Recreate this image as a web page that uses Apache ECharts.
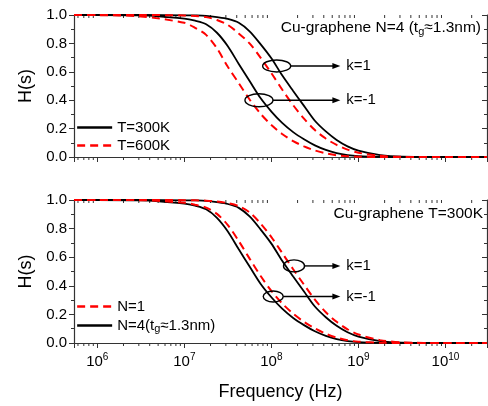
<!DOCTYPE html>
<html>
<head>
<meta charset="utf-8">
<script src="https://cdn.jsdelivr.net/npm/echarts@6/dist/echarts.min.js"></script>
<style>
html, body { margin: 0; padding: 0; background: #fff; }
#main { width: 488px; height: 406px; }
</style>
</head>
<body>
<div id="main"></div>
<script>
// frequency samples (Hz), 1/8 decade steps through the roll-off
var freqHz = [5.4e5, 1e6, 3.16e6, 1e7, 1.33e7, 1.78e7, 2.37e7, 3.16e7, 4.22e7, 5.62e7, 7.5e7, 1e8, 1.33e8, 1.78e8, 2.37e8, 3.16e8, 4.22e8, 5.62e8, 7.5e8, 1e9, 1.78e9, 3.16e9, 1e10, 3e10];

// N=4, T=300K (same curves in both panels)
var t300_kneg = [1, 1, 0.998, 0.975, 0.96, 0.935, 0.875, 0.78, 0.655, 0.535, 0.415, 0.32, 0.24, 0.175, 0.125, 0.082, 0.05, 0.027, 0.013, 0.006, 0.001, 0, 0, 0];
var t300_kpos = [1, 1, 1, 0.998, 0.997, 0.994, 0.985, 0.972, 0.945, 0.885, 0.795, 0.695, 0.575, 0.465, 0.36, 0.255, 0.18, 0.12, 0.075, 0.045, 0.013, 0.002, 0, 0];
// N=4, T=600K
var t600_kneg = [1, 0.999, 0.99, 0.945, 0.91, 0.86, 0.765, 0.635, 0.52, 0.405, 0.305, 0.225, 0.162, 0.112, 0.075, 0.046, 0.026, 0.012, 0.005, 0.002, 0, 0, 0, 0];
var t600_kpos = [1, 1, 1, 0.997, 0.993, 0.985, 0.965, 0.93, 0.87, 0.80, 0.70, 0.59, 0.475, 0.365, 0.27, 0.19, 0.13, 0.085, 0.052, 0.03, 0.008, 0.001, 0, 0];
// N=1, T=300K
var n1_kneg = [1, 1, 0.999, 0.98, 0.967, 0.947, 0.903, 0.824, 0.713, 0.59, 0.47, 0.364, 0.277, 0.205, 0.148, 0.102, 0.065, 0.038, 0.019, 0.009, 0.002, 0, 0, 0];
var n1_kpos = [1, 1, 1, 0.999, 0.998, 0.995, 0.989, 0.978, 0.957, 0.913, 0.836, 0.741, 0.63, 0.516, 0.408, 0.303, 0.215, 0.148, 0.096, 0.059, 0.02, 0.004, 0, 0];

var xMin = 5.4e5, xMax = 3e10;
var xMinorTicks = [6e5, 7e5, 8e5, 9e5,
    2e6, 3e6, 4e6, 5e6, 6e6, 7e6, 8e6, 9e6,
    2e7, 3e7, 4e7, 5e7, 6e7, 7e7, 8e7, 9e7,
    2e8, 3e8, 4e8, 5e8, 6e8, 7e8, 8e8, 9e8,
    2e9, 3e9, 4e9, 5e9, 6e9, 7e9, 8e9, 9e9,
    2e10];

// ellipse + arrow labels
var annotations = [
    { grid: 0, freq: 1.15e8, h: 0.641, rx: 14, ry: 6, text: 'k=1' },
    { grid: 0, freq: 7.2e7, h: 0.40, rx: 14, ry: 6.5, text: 'k=-1' },
    { grid: 1, freq: 1.82e8, h: 0.539, rx: 10.5, ry: 6, text: 'k=1' },
    { grid: 1, freq: 1.05e8, h: 0.325, rx: 10, ry: 5.5, text: 'k=-1' }
];
var arrowTipFreq = 6.2e8;

var FONT = 'Liberation Sans, Arial, sans-serif';
var AXIS_COLOR = '#333';

function pairs(vals) {
    return freqHz.map(function (f, i) { return [f, vals[i]]; });
}

function lineSeries(name, vals, grid, dashed) {
    return {
        type: 'line',
        name: name,
        xAxisIndex: grid * 2,
        yAxisIndex: grid * 2,
        data: pairs(vals),
        symbol: 'none',
        smooth: 0.3,
        lineStyle: dashed ? { color: '#ff0000', width: 2, type: [8, 5] } : { color: '#000', width: 1.8 },
        itemStyle: { color: dashed ? '#ff0000' : '#000' },
        z: dashed ? 3 : 2,
        silent: true
    };
}

// minor ticks of the log axis (bottom outward, top inward)
function minorTickSeries(grid) {
    return {
        type: 'custom',
        xAxisIndex: grid * 2,
        yAxisIndex: grid * 2,
        data: xMinorTicks.map(function (v) { return [v, 0]; }),
        silent: true,
        clip: false,
        z: 1,
        renderItem: function (params, api) {
            var pb = api.coord([api.value(0), 0]);
            var pt = api.coord([api.value(0), 1]);
            var st = { stroke: AXIS_COLOR, lineWidth: 1 };
            return {
                type: 'group',
                children: [
                    { type: 'line', shape: { x1: pb[0], y1: pb[1], x2: pb[0], y2: pb[1] + 3 }, style: st },
                    { type: 'line', shape: { x1: pt[0], y1: pt[1], x2: pt[0], y2: pt[1] + 3 }, style: st }
                ]
            };
        }
    };
}

function xAxisPair(grid, withLabels) {
    var common = {
        gridIndex: grid, type: 'log', logBase: 10, min: xMin, max: xMax,
        axisLine: { show: true, lineStyle: { color: AXIS_COLOR, width: 1.2 } },
        splitLine: { show: false },
        minorTick: { show: false }
    };
    var bottom = Object.assign({}, common, {
        position: 'bottom',
        axisTick: { show: true, length: 5, lineStyle: { color: AXIS_COLOR } },
        axisLabel: {
            show: withLabels, margin: 9, color: '#000',
            showMinLabel: false, showMaxLabel: false,
            formatter: function (v) { return '{b|10}{s|' + Math.round(Math.log10(v)) + '}'; },
            rich: {
                b: { fontSize: 15, fontFamily: FONT, color: '#000' },
                s: { fontSize: 10, fontFamily: FONT, color: '#000', padding: [0, 0, 9, 0] }
            }
        }
    });
    if (withLabels) {
        bottom.name = 'Frequency (Hz)';
        bottom.nameLocation = 'middle';
        bottom.nameGap = 40;
        bottom.nameTextStyle = { fontSize: 18, fontFamily: FONT, color: '#000' };
    }
    var top = Object.assign({}, common, {
        position: 'top',
        axisTick: { show: true, inside: true, length: 5, lineStyle: { color: AXIS_COLOR } },
        axisLabel: { show: false }
    });
    return [bottom, top];
}

function yAxisPair(grid) {
    var common = {
        gridIndex: grid, type: 'value', min: 0, max: 1, interval: 0.2,
        axisLine: { show: true, lineStyle: { color: AXIS_COLOR, width: 1.2 } },
        splitLine: { show: false }
    };
    var left = Object.assign({}, common, {
        position: 'left',
        axisTick: { show: true, length: 5, lineStyle: { color: AXIS_COLOR } },
        minorTick: { show: true, splitNumber: 2, length: 3, lineStyle: { color: AXIS_COLOR } },
        axisLabel: {
            margin: 7, fontSize: 15, fontFamily: FONT, color: '#000',
            formatter: function (v) { return v.toFixed(1); }
        },
        name: 'H(s)', nameLocation: 'middle', nameGap: 38,
        nameTextStyle: { fontSize: 18, fontFamily: FONT, color: '#000' }
    });
    var right = Object.assign({}, common, {
        position: 'right',
        axisTick: { show: true, inside: true, length: 5, lineStyle: { color: AXIS_COLOR } },
        minorTick: { show: true, splitNumber: 2, length: 3, lineStyle: { color: AXIS_COLOR } },
        axisLabel: { show: false }
    });
    return [left, right];
}

var N4_NAME = 'N=4(tg≈1.3nm)';

var chart = echarts.init(document.getElementById('main'), null, { renderer: 'canvas' });

var legendCommon = {
    orient: 'vertical', left: 76, padding: 0,
    itemWidth: 35, itemHeight: 14, selectedMode: false,
    itemStyle: { opacity: 0 },
    lineStyle: { width: 2.3 }
};

var option = {
    animation: false,
    backgroundColor: '#fff',
    grid: [
        { left: 74, right: 1, top: 15, height: 142, outerBoundsMode: 'none' },
        { left: 74, right: 1, top: 200, height: 143, outerBoundsMode: 'none' }
    ],
    xAxis: xAxisPair(0, false).concat(xAxisPair(1, true)),
    yAxis: yAxisPair(0).concat(yAxisPair(1)),
    legend: [
        Object.assign({}, legendCommon, {
            data: ['T=300K', 'T=600K'], top: 120, itemGap: 3,
            textStyle: { fontSize: 15, fontFamily: FONT, color: '#000' }
        }),
        Object.assign({}, legendCommon, {
            data: ['N=1', N4_NAME], top: 299, itemGap: 4,
            formatter: function (name) { return name.replace('tg', 't{g|g}'); },
            textStyle: {
                fontSize: 15, fontFamily: FONT, color: '#000',
                rich: { g: { fontSize: 11, fontFamily: FONT, color: '#000', padding: [7, 0, 0, 0] } }
            }
        })
    ],
    series: [
        lineSeries('T=300K', t300_kneg, 0, false),
        lineSeries('T=300K', t300_kpos, 0, false),
        lineSeries('T=600K', t600_kneg, 0, true),
        lineSeries('T=600K', t600_kpos, 0, true),
        lineSeries(N4_NAME, t300_kneg, 1, false),
        lineSeries(N4_NAME, t300_kpos, 1, false),
        lineSeries('N=1', n1_kneg, 1, true),
        lineSeries('N=1', n1_kpos, 1, true),
        minorTickSeries(0),
        minorTickSeries(1)
    ]
};
chart.setOption(option);

// panel captions and k labels
var graphics = [
    {
        type: 'text', right: 7, top: 20,
        style: {
            text: 'Cu-graphene N=4 (t{g|g}≈1.3nm)', font: '15.5px ' + FONT, fill: '#000',
            rich: { g: { fontSize: 11, fontFamily: FONT, fill: '#000', padding: [7, 0, 0, 0] } }
        }
    },
    {
        type: 'text', right: 5, top: 206,
        style: { text: 'Cu-graphene T=300K', font: '15.5px ' + FONT, fill: '#000' }
    }
];
annotations.forEach(function (a) {
    var finder = { seriesIndex: a.grid * 4 };
    var c = chart.convertToPixel(finder, [a.freq, a.h]);
    var tipX = chart.convertToPixel(finder, [arrowTipFreq, a.h])[0];
    var y = c[1];
    graphics.push({
        type: 'ellipse', shape: { cx: c[0], cy: y, rx: a.rx, ry: a.ry },
        style: { fill: 'none', stroke: '#000', lineWidth: 1.4 }, z: 10
    });
    graphics.push({
        type: 'line', shape: { x1: c[0] + a.rx, y1: y, x2: tipX - 6, y2: y },
        style: { stroke: '#000', lineWidth: 1.4 }, z: 10
    });
    graphics.push({
        type: 'polygon', shape: { points: [[tipX, y], [tipX - 8, y - 3], [tipX - 8, y + 3]] },
        style: { fill: '#000' }, z: 10
    });
    graphics.push({
        type: 'text', x: tipX + 6, y: y,
        style: { text: a.text, font: '15px ' + FONT, fill: '#000', verticalAlign: 'middle', align: 'left' }, z: 10
    });
});
chart.setOption({ graphic: graphics });
</script>
</body>
</html>
